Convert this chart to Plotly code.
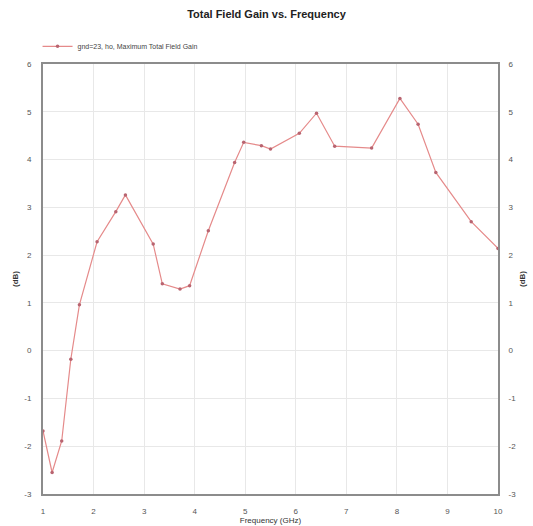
import plotly.graph_objects as go

# Frequency sweep (GHz) and maximum total field gain (dB)
freq_ghz = [1.0, 1.18, 1.37, 1.55, 1.72, 2.07, 2.44, 2.63, 3.18, 3.36, 3.71, 3.9,
            4.27, 4.79, 4.97, 5.32, 5.5, 6.07, 6.41, 6.77, 7.5, 8.06, 8.42, 8.77,
            9.47, 10.0]
gain_db = [-1.68, -2.55, -1.89, -0.18, 0.96, 2.28, 2.91, 3.26, 2.23, 1.40, 1.29, 1.36,
           2.51, 3.94, 4.36, 4.29, 4.22, 4.55, 4.97, 4.28, 4.24, 5.28, 4.74, 3.73,
           2.70, 2.14]
x_ticks = [1, 2, 3, 4, 5, 6, 7, 8, 9, 10]
y_ticks = [-3, -2, -1, 0, 1, 2, 3, 4, 5, 6]
y_tick_text = [str(v) for v in y_ticks]  # plain hyphen minus signs
series_name = "gnd=23, ho, Maximum Total Field Gain"

FONT = "Liberation Sans, Arial, sans-serif"
LINE = "#e58a8a"
MARK = "#b86470"
AXIS = "#8c8c8c"
GRID = "#e8e8e8"
CLEAR = "rgba(0,0,0,0)"

fig = go.Figure()
fig.add_trace(go.Scatter(
    x=freq_ghz, y=gain_db, mode="lines+markers", name=series_name,
    line=dict(color=LINE, width=1.2),
    marker=dict(color=MARK, size=3.5, symbol="circle"),
))
# invisible trace that carries the right-hand dB axis
fig.add_trace(go.Scatter(
    x=[freq_ghz[0]], y=[gain_db[0]], yaxis="y2", mode="markers",
    marker=dict(opacity=0), showlegend=False, hoverinfo="skip",
))

tick_font = dict(family=FONT, size=8, color="#555555")
title_font = dict(family=FONT, size=8, color="#333333")
axis_common = dict(
    showline=True, linecolor=AXIS, linewidth=2,
    ticks="outside", ticklen=8, tickcolor=CLEAR, automargin=False,
    gridcolor=GRID, gridwidth=1, zeroline=False, tickfont=tick_font,
)

fig.update_layout(
    width=533, height=526,
    margin=dict(l=43, r=35, t=64, b=32),
    paper_bgcolor="white", plot_bgcolor="white",
    title=dict(text="<b>Total Field Gain vs. Frequency</b>", x=0.5, xanchor="center",
               y=0.98, yanchor="top",
               font=dict(family=FONT, size=11, color="#222222")),
    showlegend=True,
    legend=dict(x=-0.012, y=1.041, xanchor="left", yanchor="middle",
                bgcolor=CLEAR, font=dict(family=FONT, size=7, color="#444444"),
                itemwidth=30),
    xaxis=dict(range=[1, 10], tickvals=x_ticks, mirror=True,
               title=dict(text="Frequency (GHz)", standoff=1, font=title_font),
               **axis_common),
    yaxis=dict(range=[-3, 6], tickvals=y_ticks, ticktext=y_tick_text, mirror=True,
               title=dict(text="<b>(dB)</b>", standoff=4, font=title_font),
               **axis_common),
    yaxis2=dict(range=[-3, 6], tickvals=y_ticks, ticktext=y_tick_text,
                overlaying="y", side="right",
                showgrid=False, showline=False, zeroline=False, automargin=False,
                ticks="outside", ticklen=8, tickcolor=CLEAR,
                tickfont=tick_font,
                title=dict(text="<b>(dB)</b>", standoff=4, font=title_font)),
)

fig.write_html("out.html")
